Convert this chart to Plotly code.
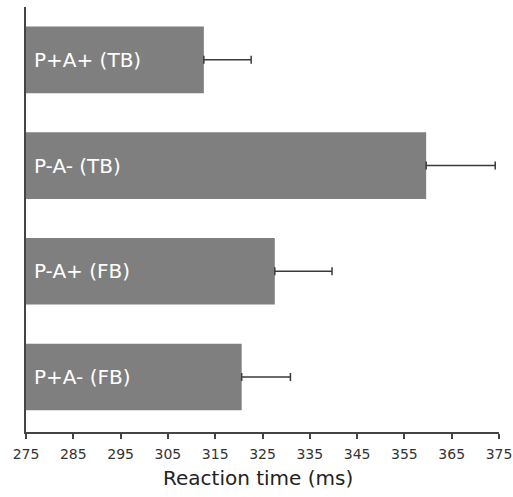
import plotly.graph_objects as go

conditions = ["P+A+ (TB)", "P-A- (TB)", "P-A+ (FB)", "P+A- (FB)"]
rt_ms = [312.6, 359.6, 327.6, 320.6]
err_ms = [10.0, 14.6, 12.1, 10.3]
tick_vals = [275, 285, 295, 305, 315, 325, 335, 345, 355, 365, 375]
x_min, x_max = 275, 375
x_title = "Reaction time (ms)"

FONT = "DejaVu Sans"

fig = go.Figure(go.Bar(
    y=conditions, x=[v - x_min for v in rt_ms], base=x_min, orientation="h",
    marker=dict(color="#7f7f7f", line=dict(width=0)),
    error_x=dict(type="data", symmetric=False, array=err_ms,
                 arrayminus=[0] * len(err_ms), color="#3a3a3a",
                 thickness=1.5, width=4),
    cliponaxis=False,
))

for c in conditions:
    fig.add_annotation(x=x_min, y=c, text=c, showarrow=False,
                       xanchor="left", yanchor="middle", xshift=6,
                       font=dict(family=FONT, size=20, color="white"))

fig.add_annotation(x=0.5, y=0, xref="paper", yref="paper", text=x_title,
                   showarrow=False, xanchor="center", yanchor="middle",
                   xshift=-5, yshift=-46,
                   font=dict(family=FONT, size=20, color="#222222"))

fig.update_layout(
    width=513, height=497,
    margin=dict(l=26, r=14, t=7, b=65),
    plot_bgcolor="white", paper_bgcolor="white",
    bargap=0.37, showlegend=False, hovermode=False,
    font=dict(family=FONT, color="#333333"),
)
fig.update_xaxes(
    range=[x_min, x_max], tickvals=tick_vals, ticktext=[str(t) for t in tick_vals],
    showline=True, linecolor="#444444", linewidth=1.5,
    ticks="outside", ticklen=5, tickcolor="#444444", tickwidth=1.5,
    showgrid=False, zeroline=False, automargin=False, ticklabelstandoff=3,
    tickfont=dict(family=FONT, size=14, color="#333333"),
)
fig.update_yaxes(
    categoryorder="array", categoryarray=conditions, automargin=False,
    range=[3.52, -0.5], showline=True, linecolor="#444444", linewidth=1.5,
    showticklabels=False, ticks="", showgrid=False, zeroline=False,
)

# remove the page's default body margin so the figure fills the window
fig.write_html("out.html", config={"displayModeBar": False},
               post_script="document.body.style.margin='0';document.body.style.overflow='hidden';")
